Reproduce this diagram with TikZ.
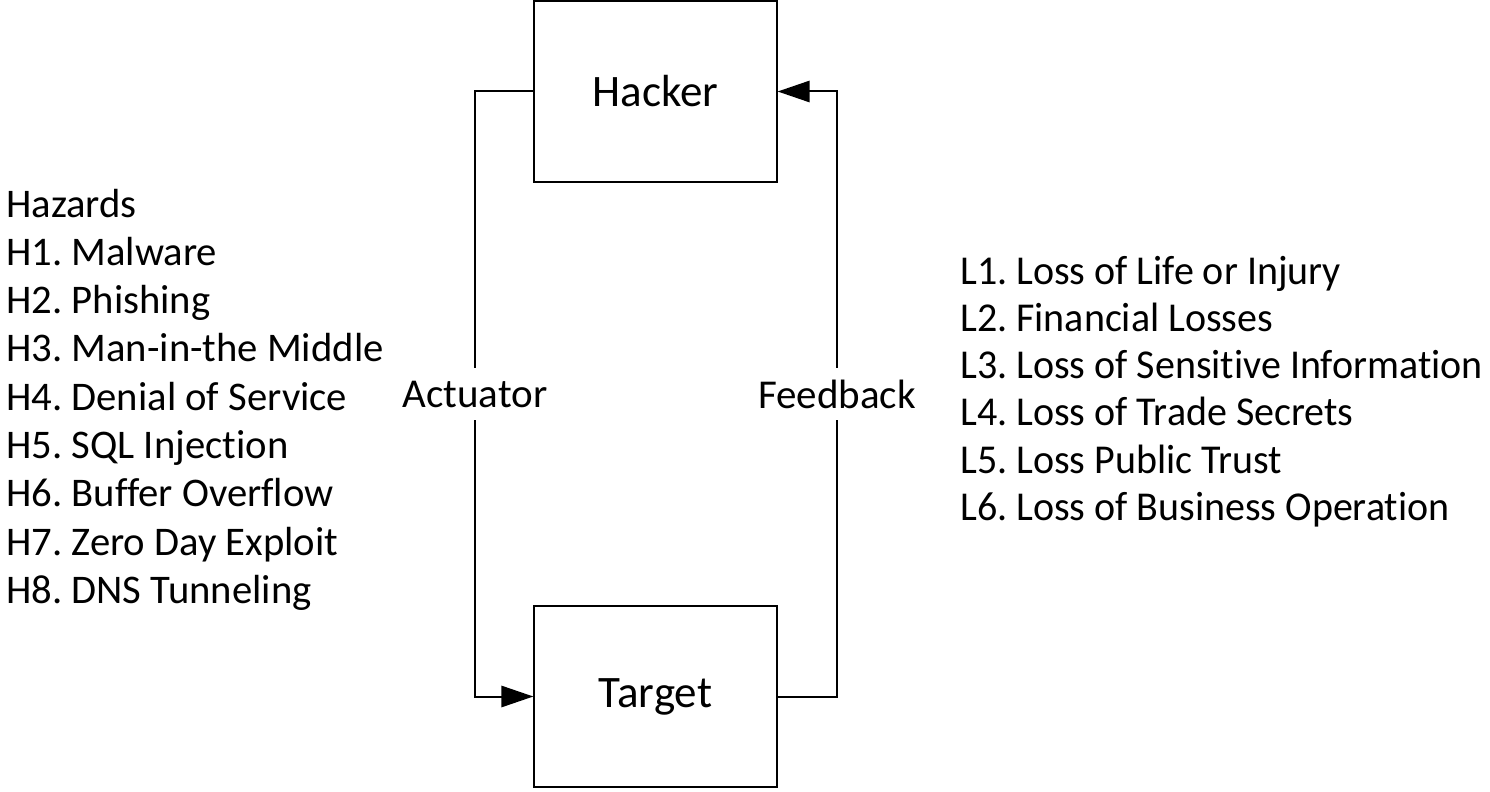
\documentclass[tikz,border=0pt]{standalone}
\usepackage{fontspec}
\setmainfont[Ligatures=NoCommon]{Carlito}
\newfontfamily\lossfont[Ligatures=NoCommon, FakeStretch=0.975]{Carlito}
\usetikzlibrary{arrows.meta}
\frenchspacing

\begin{document}
\begin{tikzpicture}[
  x=0.75pt, y=-0.75pt,
  block/.style={draw, line width=1pt, minimum width=243*0.75pt, minimum height=181*0.75pt,
                inner sep=0pt, font=\fontsize{33.75}{40}\selectfont},
  conn/.style={line width=1.5pt},
  tip/.style={-{Triangle[length=24pt, width=16pt]}},
  lbl/.style={fill=white, inner sep=0pt, minimum height=52*0.75pt, font=\fontsize{30.75}{36}\selectfont},
  item/.style={anchor=base west, inner sep=0pt, font=\fontsize{30.5}{36}\selectfont},
  loss/.style={item, font=\fontsize{30.75}{36}\lossfont}
]
\useasboundingbox (0,0) rectangle (1490,792);

% control loop blocks
\node[block] (hacker) at (655.5,91.5) {Hacker};
\node[block] (target) at (655.5,696.5) {Target};

% corner points of the loop
\coordinate (al1) at (475,91.5);
\coordinate (al2) at (475,696.5);
\coordinate (fb1) at (837,696.5);
\coordinate (fb2) at (837,91.5);

\node[lbl] (act) at (475,394) {Actuator};
\node[lbl] (fb)  at (837,394) {Feedback};

% actuator path: hacker -> target
\draw[conn] (hacker.west) -- (al1) -- (act);
\draw[conn, tip] (act) -- (al2) -- (target.west);
% feedback path: target -> hacker
\draw[conn] (target.east) -- (fb1) -- (fb);
\draw[conn, tip] (fb) -- (fb2) -- (hacker.east);

% hazards
\node[item] (hz)  at (6,217)   {Hazards};
\node[item] (h1)  at (6,265.3) {H1. Malware};
\node[item] (h2)  at (6,313.6) {H2. Phishing};
\node[item] (h3)  at (6,361.9) {H3. Man-in-the Middle};
\node[item] (h4)  at (6,410.2) {H4. Denial of Service};
\node[item] (h5)  at (6,458.5) {H5. SQL Injection};
\node[item] (h6)  at (6,506.8) {H6. Buffer Overflow};
\node[item] (h7)  at (6,555.1) {H7. Zero Day Exploit};
\node[item] (h8)  at (6,603.4) {H8. DNS Tunneling};

% losses
\node[loss] (l1) at (960,284)   {L1. Loss of Life or Injury};
\node[loss] (l2) at (960,331.3) {L2. Financial Losses};
\node[loss] (l3) at (960,378.6) {L3. Loss of Sensitive Information};
\node[loss] (l4) at (960,425.9) {L4. Loss of Trade Secrets};
\node[loss] (l5) at (960,473.2) {L5. Loss Public Trust};
\node[loss] (l6) at (960,520.5) {L6. Loss of Business Operation};
\end{tikzpicture}
\end{document}
